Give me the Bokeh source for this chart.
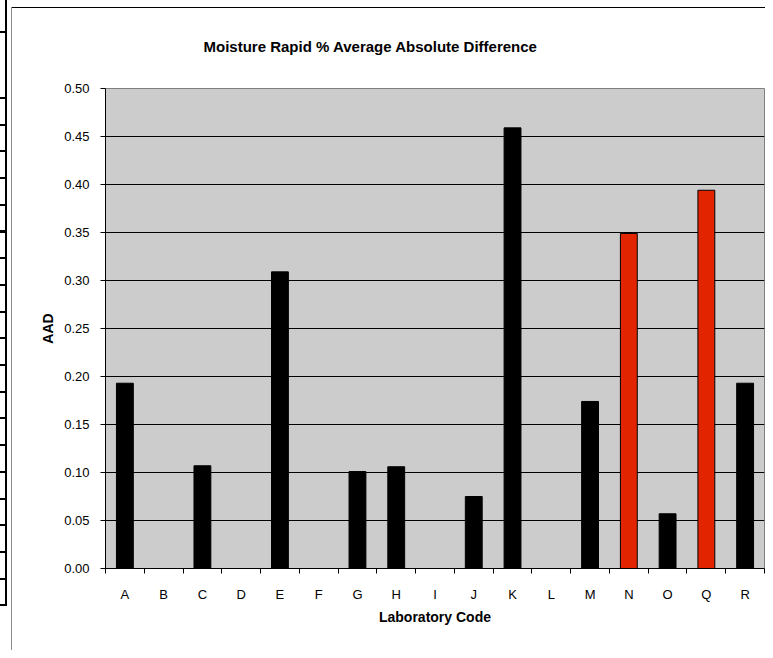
from bokeh.plotting import figure
from bokeh.models import ColumnDataSource, FixedTicker, NumeralTickFormatter, Range1d, Div
from bokeh.layouts import row
from bokeh.embed import file_html
from bokeh.resources import INLINE

# ---- data ----
labs = ["A", "B", "C", "D", "E", "F", "G", "H", "I", "J", "K", "L", "M", "N", "O", "Q", "R"]
aad = [0.193, None, 0.107, None, 0.309, None, 0.101, 0.106, None, 0.075, 0.459, None,
       0.174, 0.349, 0.057, 0.394, 0.193]
flagged = ["N", "Q"]
y_ticks = [0.00, 0.05, 0.10, 0.15, 0.20, 0.25, 0.30, 0.35, 0.40, 0.45, 0.50]

title = "Moisture Rapid % Average Absolute Difference"
x_title = "Laboratory Code"
y_title = "AAD"

# ---- build source ----
xs, tops, fills = [], [], []
for i, (lab, v) in enumerate(zip(labs, aad)):
    if v is None:
        continue
    xs.append(i + 0.5)
    tops.append(v)
    fills.append("#E32400" if lab in flagged else "#000000")
src = ColumnDataSource(dict(x=xs, top=tops, fill=fills))

FONT = "Liberation Sans"

p = figure(width=753, height=650, output_backend="svg", toolbar_location=None,
           x_range=Range1d(0, len(labs)), y_range=Range1d(0, 0.5),
           min_border_left=93, min_border_right=1, min_border_top=88, min_border_bottom=82)
# chart-area top border line (drawn behind the transparent canvas border area)
p.styles = {"background": "linear-gradient(#000,#000) 0px 7px / 100% 1px no-repeat"}

p.background_fill_color = "#CCCCCC"
p.border_fill_color = "white"
p.border_fill_alpha = 0
p.outline_line_color = "#808080"
p.outline_line_width = 1

p.vbar(x="x", top="top", bottom=0, width=0.435, fill_color="fill", line_color="#000000",
       line_width=1, source=src)

# title
p.title.text = title
p.title.text_font = FONT
p.title.text_font_size = "15px"
p.title.text_font_style = "bold"
p.title.text_color = "black"
p.title.align = "left"
p.title.offset = 98
p.title.standoff = 68

# x axis: labels at centers, tick marks at category boundaries
centers = [i + 0.5 for i in range(len(labs))]
bounds = [i for i in range(len(labs) + 1)]
p.xaxis.ticker = FixedTicker(ticks=centers, minor_ticks=bounds)
p.xaxis.major_label_overrides = {c: lab for c, lab in zip(centers, labs)}
p.xaxis.major_tick_out = 0
p.xaxis.major_tick_in = 0
p.xaxis.minor_tick_out = 5
p.xaxis.minor_tick_in = 0
p.xaxis.minor_tick_line_color = "black"
p.xaxis.axis_line_color = "black"
p.xaxis.major_label_standoff = 13
p.xaxis.axis_label = x_title
p.xaxis.axis_label_standoff = 4

# y axis
p.yaxis.ticker = FixedTicker(ticks=y_ticks)
p.yaxis.formatter = NumeralTickFormatter(format="0.00")
p.yaxis.major_tick_out = 5
p.yaxis.major_tick_in = 0
p.yaxis.minor_tick_line_color = None
p.yaxis.axis_line_color = "black"
p.yaxis.major_label_standoff = 11
p.yaxis.axis_label = y_title
p.yaxis.axis_label_standoff = 5

for ax in (p.xaxis, p.yaxis):
    ax.major_label_text_font = FONT
    ax.major_label_text_font_size = "13px"
    ax.major_label_text_color = "black"
    ax.axis_label_text_font = FONT
    ax.axis_label_text_font_size = "14px"
    ax.axis_label_text_font_style = "bold"
    ax.axis_label_text_color = "black"
    ax.major_tick_line_color = "black"

p.xgrid.grid_line_color = None
p.ygrid.grid_line_color = "black"
p.ygrid.grid_line_width = 1

# spreadsheet cell borders visible at the left edge of the screenshot
edge = Div(width=12, height=650, margin=0, styles={
    "background": ", ".join([
        "linear-gradient(#000,#000) 5px 0px / 2px 606px no-repeat",
        "linear-gradient(#000,#000) 0px 31px / 7px 2px no-repeat",
        "repeating-linear-gradient(to bottom, #000 0px, #000 2px, transparent 2px, transparent 26.7px) 0px 97px / 7px 511px no-repeat",
        "linear-gradient(#8c8c8c,#8c8c8c) 11px 7px / 1px 643px no-repeat",
    ])
})

layout = row(edge, p)

open("out.html", "w").write(file_html(layout, INLINE))
